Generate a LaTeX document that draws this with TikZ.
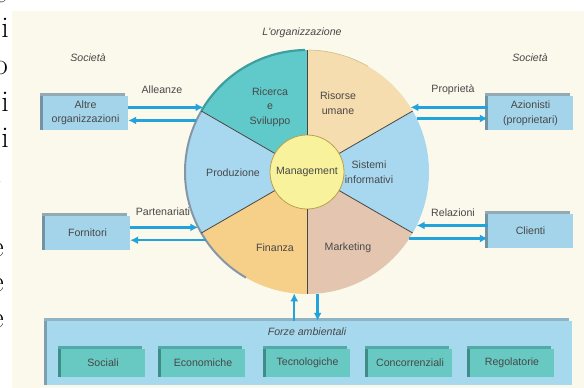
\documentclass[tikz,border=0pt]{standalone}
\usepackage{fontspec}
\newfontfamily\diagfont{Liberation Sans}
\usetikzlibrary{arrows.meta,shadows}

\definecolor{paper}{HTML}{FBF8EC}
\definecolor{txtgray}{HTML}{484848}
\definecolor{boxface}{HTML}{A3D4EA}
\definecolor{boxtop}{HTML}{93AAB5}
\definecolor{boxleft}{HTML}{7393A4}
\definecolor{envface}{HTML}{A6D8EE}
\definecolor{envtop}{HTML}{90B4C4}
\definecolor{envleft}{HTML}{7C9FB2}
\definecolor{forceface}{HTML}{68C8C2}
\definecolor{forcetop}{HTML}{52AAA6}
\definecolor{forceleft}{HTML}{3F8D89}
\definecolor{flowblue}{HTML}{22A3DB}
\definecolor{rdteal}{HTML}{60CACA}
\definecolor{hrpeach}{HTML}{F6DDAF}
\definecolor{secblue}{HTML}{A8D8F0}
\definecolor{finorange}{HTML}{F6CF88}
\definecolor{mktpink}{HTML}{E4C6B0}
\definecolor{mgmtyellow}{HTML}{F8F29C}
\definecolor{mgmtline}{HTML}{B9A24A}
\definecolor{spokecol}{HTML}{4A4540}
\definecolor{rdrim}{HTML}{3E9E9E}
\definecolor{rimgray}{HTML}{8597A6}

\tikzset{
    lbl/.style={text=txtgray, align=center, font=\diagfont\fontsize{10.6}{14.5}\selectfont},
    note/.style={text=txtgray, align=center, font=\diagfont\itshape\fontsize{10.6}{14.5}\selectfont},
    sidebox/.style={lbl, fill=boxface, minimum width=85pt, minimum height=34pt, inner sep=1pt,
        general shadow={shadow xshift=-3pt, shadow yshift=3pt, fill=boxtop},
        general shadow={shadow xshift=-3pt, shadow yshift=0pt, fill=boxleft}},
    envbox/.style={fill=envface, minimum width=525pt, minimum height=64pt, inner sep=0,
        general shadow={shadow xshift=-3pt, shadow yshift=3pt, fill=envtop},
        general shadow={shadow xshift=-3pt, shadow yshift=0pt, fill=envleft}},
    forcebox/.style={lbl, fill=forceface, minimum width=84pt, minimum height=28pt, inner sep=1pt,
        general shadow={shadow xshift=-3pt, shadow yshift=3pt, fill=forcetop},
        general shadow={shadow xshift=-3pt, shadow yshift=0pt, fill=forceleft}},
    flow/.style={draw=flowblue, line width=2.4pt, -{Latex[length=8pt,width=8pt]}},
    spoke/.style={draw=spokecol, line width=0.8pt},
}

\begin{document}
\begin{tikzpicture}[x=1pt,y=1pt]
    \useasboundingbox (0,0) rectangle (584,388);

    % Page and paper
    \fill[white] (0,0) rectangle (584,388);
    \fill[paper] (12,0) rectangle (584,377);

    % Line ends of the text column beside it
    \begin{scope}
        \clip (0,0) rectangle (11,388);
        \foreach \x/\y/\ch in {7/385/e, 9/350/i, 8/313/o, 9/276/i, 9/240/i, 3/204/., 4/131/e, 4/96/e, 4/60/e, 2/23/.} {
            \node[anchor=base east, inner sep=0, font=\fontsize{30}{36}\selectfont] at (\x,\y) {\ch};
        }
    \end{scope}

    % The organisation wheel
    \node[circle, minimum size=244pt, inner sep=0, outer sep=0] (org) at (307,216) {};
    \foreach \a/\col in {30/hrpeach, 90/rdteal, 150/secblue, 210/finorange, 270/mktpink, 330/secblue} {
        \fill[\col] (org.center) -- (org.\a) arc[start angle=\a, delta angle=60, radius=122pt] -- cycle;
    }
    \draw[line width=2.2pt, rdrim] (org.150) arc[start angle=150, end angle=91, radius=122pt];
    \draw[line width=2pt, rimgray] (org.150) arc[start angle=150, end angle=240, radius=122pt];
    \draw[line width=0.6pt, mgmtline!70] (org.89) arc[start angle=89, end angle=60, radius=122pt];

    \node[circle, minimum size=74pt, inner sep=0, fill=mgmtyellow, draw=mgmtline, line width=0.8pt, lbl] (mgmt) at (org.center) {Management};
    \foreach \a in {30,90,...,330} {
        \draw[spoke] (mgmt.\a) -- (org.\a);
    }

    % Functions
    \node[lbl] (rd) at (270,281) {Ricerca\\e\\Sviluppo};
    \node[lbl] (hr) at (338,285) {Risorse\\umane};
    \node[lbl] (prod) at (233,215) {Produzione};
    \node[lbl] (sis) at (369,216) {Sistemi\\informativi};
    \node[lbl] (fin) at (275,140) {Finanza};
    \node[lbl] (mkt) at (348,140) {Marketing};

    % Titles
    \node[note] (title) at (302,355) {L'organizzazione};
    \node[note] (socleft) at (88,330) {Società};
    \node[note] (socright) at (530,330) {Società};

    % Society around it
    \node[sidebox] (altre) at (85.5,275) {Altre\\organizzazioni};
    \node[sidebox] (fornitori) at (87.5,155) {Fornitori};
    \node[sidebox] (azionisti) at (530.5,274.5) {Azionisti\\(proprietari)};
    \node[sidebox] (clienti) at (530.5,157) {Clienti};

    % Exchanges
    \draw[flow] (altre.east |- org.148) -- (org.148);
    \draw[flow] (org.155) -- (org.155 -| altre.east);
    \draw[flow] (fornitori.east |- org.207) -- (org.207);
    \draw[flow] (org.214) -- (org.214 -| fornitori.east);
    \draw[flow] (azionisti.west |- org.32) -- (org.32);
    \draw[flow] (org.26) -- (org.26 -| azionisti.west);
    \draw[flow] (clienti.west |- org.334) -- (org.334);
    \draw[flow] (org.327) -- (org.327 -| clienti.west);

    \node[lbl] (alleanze) at (162,298) {Alleanze};
    \node[lbl] (proprieta) at (453,298) {Proprietà};
    \node[lbl] (partenariati) at (163,176) {Partenariati};
    \node[lbl] (relazioni) at (453,175) {Relazioni};

    % Environmental forces
    \node[envbox] (forze) at (309.5,35) {};
    \node[note] (forzetitle) at (307,56) {Forze ambientali};
    \foreach \x/\name/\txt in {103/sociali/Sociali, 203/economiche/Economiche, 307.5/tecnologiche/Tecnologiche, 410/concorrenziali/Concorrenziali, 512/regolatorie/Regolatorie} {
        \node[forcebox] (\name) at (\x,25) {\txt};
    }
    \draw[flow] (org.264 |- forze.north) -- (org.264);
    \draw[flow] (org.275) -- (org.275 |- forze.north);
\end{tikzpicture}
\end{document}
